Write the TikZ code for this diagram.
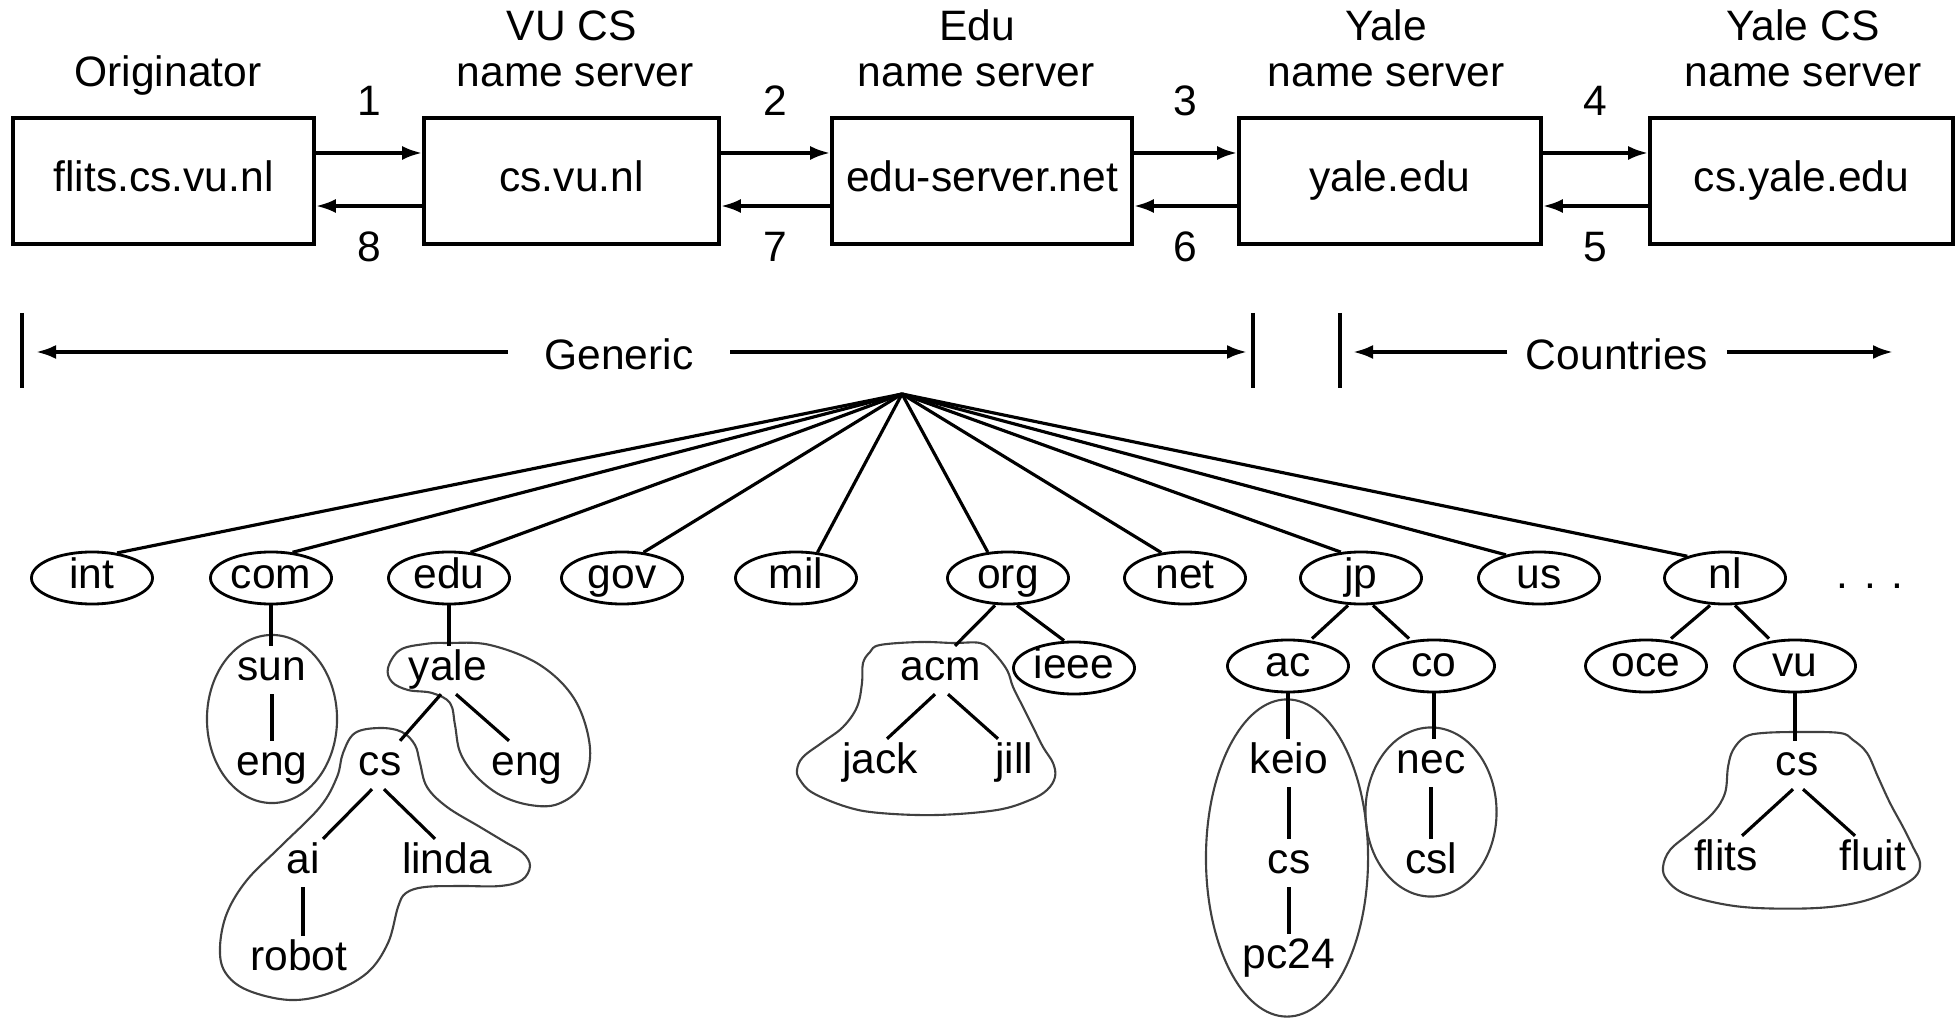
\documentclass[tikz,border=0pt]{standalone}
\usepackage{fontspec}
\setmainfont{Liberation Sans}
\usetikzlibrary{shapes.geometric, arrows.meta}
\begin{document}
\begin{tikzpicture}[x=0.01cm, y=-0.01cm,
  every node/.style={font=\fontsize{12.1pt}{14pt}\selectfont},
  txt/.style={inner xsep=1pt, inner ysep=0.04cm, text height=0.30cm, text depth=0.09cm},
  srv/.style={draw, line width=1pt, minimum height=1.26cm, inner sep=0pt, text height=0.30cm, text depth=0.09cm},
  ell/.style={ellipse, draw, line width=0.8pt, minimum width=1.21cm, minimum height=0.52cm, inner sep=0pt, text height=0.28cm, text depth=0.08cm},
  msg/.style={line width=1pt, -{Latex[length=0.2cm,width=0.14cm]}},
  tl/.style={line width=0.9pt},
  encl/.style={line width=0.6pt, draw=black!75},
  bar/.style={line width=1.1pt},
]
\useasboundingbox (0,0) rectangle (1955,1019);

% ---------- name servers ----------
\node[srv, minimum width=3.01cm] (orig) at (163.5,181) {flits.cs.vu.nl};
\node[srv, minimum width=2.95cm] (vucs) at (571.5,181) {cs.vu.nl};
\node[srv, minimum width=3.00cm] (edus) at (982,181) {edu-server.net};
\node[srv, minimum width=3.02cm] (yaled) at (1390,181) {yale.edu};
\node[srv, minimum width=3.03cm] (ycs) at (1801.5,181) {cs.yale.edu};

\node[txt] (h0) at (168,76) {Originator};
\node[txt] (h1a) at (572,30) {VU CS};
\node[txt] (h1b) at (575,76) {name server};
\node[txt] (h2a) at (977,30) {Edu};
\node[txt] (h2b) at (976,76) {name server};
\node[txt] (h3a) at (1386,30) {Yale};
\node[txt] (h3b) at (1386,76) {name server};
\node[txt] (h4a) at (1803,30) {Yale CS};
\node[txt] (h4b) at (1803,76) {name server};

\draw[msg] ([yshift=0.28cm]orig.east) -- node[txt, midway, above=0.23cm] (n1) {1} ([yshift=0.28cm]vucs.west);
\draw[msg] ([yshift=0.28cm]vucs.east) -- node[txt, midway, above=0.23cm] (n2) {2} ([yshift=0.28cm]edus.west);
\draw[msg] ([yshift=0.28cm]edus.east) -- node[txt, midway, above=0.23cm] (n3) {3} ([yshift=0.28cm]yaled.west);
\draw[msg] ([yshift=0.28cm]yaled.east) -- node[txt, midway, above=0.23cm] (n4) {4} ([yshift=0.28cm]ycs.west);
\draw[msg] ([yshift=-0.25cm]ycs.west) -- node[txt, midway, below=0.2cm] (n5) {5} ([yshift=-0.25cm]yaled.east);
\draw[msg] ([yshift=-0.25cm]yaled.west) -- node[txt, midway, below=0.2cm] (n6) {6} ([yshift=-0.25cm]edus.east);
\draw[msg] ([yshift=-0.25cm]edus.west) -- node[txt, midway, below=0.2cm] (n7) {7} ([yshift=-0.25cm]vucs.east);
\draw[msg] ([yshift=-0.25cm]vucs.west) -- node[txt, midway, below=0.2cm] (n8) {8} ([yshift=-0.25cm]orig.east);

% ---------- Generic / Countries ----------
\coordinate (b1t) at (22,313);   \coordinate (b1b) at (22,388);
\coordinate (b2t) at (1253,313); \coordinate (b2b) at (1253,388);
\coordinate (b3t) at (1340,313); \coordinate (b3b) at (1340,388);
\draw[bar] (b1t) -- (b1b);
\draw[bar] (b2t) -- (b2b);
\draw[bar] (b3t) -- (b3b);
\node[txt, inner xsep=0.36cm] (generic) at (619,359) {Generic};
\node[txt, inner xsep=0.18cm] (countries) at (1617,359) {Countries};
\coordinate (gL) at (36,352);   \coordinate (gR) at (1247,352);
\coordinate (cL) at (1353,352); \coordinate (cR) at (1893,352);
\draw[msg] (generic.west |- gL) -- (gL);
\draw[msg] (generic.east |- gR) -- (gR);
\draw[msg] (countries.west |- cL) -- (cL);
\draw[msg] (countries.east |- cR) -- (cR);

% ---------- tree: enclosures ----------
\draw[encl] (272,719) ellipse [x radius=0.65cm, y radius=0.84cm];
\draw[encl] plot[smooth cycle, tension=0.6] coordinates {(388,668) (400,650) (425,644) (447,643) (490,645) (540,665) (575,700) (590,748) (582,785) (558,804) (530,805) (500,795) (475,775) (460,752) (455,725) (450,703) (432,693) (408,690) (392,682)};
\draw[encl] plot[smooth cycle, tension=0.6] coordinates {(380,728) (355,733) (343,753) (337,777) (320,807) (280,847) (247,880) (227,913) (220,947) (225,972) (247,990) (290,1000) (330,993) (367,973) (388,943) (398,907) (406,893) (425,887) (460,886) (500,886) (522,880) (530,866) (523,853) (505,842) (480,827) (447,807) (427,787) (420,763) (415,745) (402,732)};
\draw[encl] plot[smooth cycle, tension=0.6] coordinates {(870,652) (880,645) (920,642) (953,643) (980,643) (993,652) (1007,670) (1013,687) (1023,707) (1033,727) (1043,747) (1053,763) (1055,777) (1047,790) (1030,800) (997,810) (937,815) (880,813) (847,807) (813,793) (800,780) (797,770) (803,757) (823,742) (843,727) (857,707) (862,683) (863,663)};
\draw[encl] (1287,858) ellipse [x radius=0.81cm, y radius=1.585cm];
\draw[encl] (1431,812) ellipse [x radius=0.655cm, y radius=0.845cm];
\draw[encl] plot[smooth cycle, tension=0.6] coordinates {(1763,733) (1800,732) (1840,733) (1853,740) (1867,753) (1878,777) (1890,803) (1903,827) (1913,847) (1920,863) (1915,877) (1893,890) (1860,902) (1817,908) (1757,908) (1717,903) (1683,893) (1667,880) (1663,867) (1670,850) (1690,833) (1713,813) (1725,793) (1728,767) (1733,750) (1745,737)};

% ---------- tree: nodes ----------
\coordinate (root) at (902,394);
\node[ell] (int) at (92,578) {int};
\node[ell] (com) at (271,578) {com};
\node[ell] (edu) at (449,578) {edu};
\node[ell] (gov) at (622,578) {gov};
\node[ell] (mil) at (796,578) {mil};
\node[ell] (org) at (1008,578) {org};
\node[ell] (net) at (1185,578) {net};
\node[ell] (jp) at (1361,578) {jp};
\node[ell] (us) at (1539,578) {us};
\node[ell] (nl) at (1725,578) {nl};
\node[txt] (dots) at (1870,578) {. . .};

\node[ell] (ieee) at (1074,668) {ieee};
\node[ell] (ac) at (1288,666) {ac};
\node[ell] (co) at (1434,666) {co};
\node[ell] (oce) at (1646,666) {oce};
\node[ell] (vu) at (1795,666) {vu};

\node[txt] (sun) at (272,670) {sun};
\node[txt] (engA) at (272,765) {eng};
\node[txt] (yale) at (448,670) {yale};
\node[txt] (csA) at (380,765) {cs};
\node[txt] (engB) at (527,765) {eng};
\node[txt] (ai) at (303,863) {ai};
\node[txt] (linda) at (447,863) {linda};
\node[txt] (robot) at (299,960) {robot};
\node[txt] (acm) at (941,670) {acm};
\node[txt] (jack) at (880,763) {jack};
\node[txt] (jill) at (1014,763) {jill};
\node[txt] (keio) at (1289,763) {keio};
\node[txt] (csB) at (1289,863) {cs};
\node[txt] (pc) at (1289,958) {pc24};
\node[txt] (nec) at (1431,763) {nec};
\node[txt] (csl) at (1431,863) {csl};
\node[txt] (csC) at (1797,765) {cs};
\node[txt] (flits) at (1726,860) {flits};
\node[txt] (fluit) at (1873,860) {fluit};

% ---------- tree: edges ----------
\draw[tl] (root) -- (int.45);
\draw[tl] (root) -- (com.50);
\draw[tl] (root) -- (edu.50);
\draw[tl] (root) -- (gov.50);
\draw[tl] (root) -- (mil.50);
\draw[tl] (root) -- (org.128);
\draw[tl] (root) -- (net.133);
\draw[tl] (root) -- (jp.128);
\draw[tl] (root) -- (us.145);
\draw[tl] (root) -- (nl.150);

\draw[tl] (com.south) -- (com.south |- sun.north);
\draw[tl] (sun.south) -- (sun.south |- engA.north);
\draw[tl] (edu.south) -- (edu.south |- yale.north);
\draw[tl] ([xshift=-0.07cm]yale.south) -- ([xshift=0.2cm]csA.north);
\draw[tl] ([xshift=0.08cm]yale.south) -- ([xshift=-0.18cm]engB.north);
\draw[tl] ([xshift=-0.08cm]csA.south) -- ([xshift=0.2cm]ai.north);
\draw[tl] ([xshift=0.04cm]csA.south) -- ([xshift=-0.12cm]linda.north);
\draw[tl] (ai.south) -- (ai.south |- robot.north);

\draw[tl] ([xshift=-0.13cm]org.south) -- ([xshift=0.14cm]acm.north);
\draw[tl] ([xshift=0.09cm]org.south) -- ([xshift=-0.1cm]ieee.north);
\draw[tl] ([xshift=-0.06cm]acm.south) -- ([xshift=0.07cm]jack.north);
\draw[tl] ([xshift=0.07cm]acm.south) -- ([xshift=-0.16cm]jill.north);

\draw[tl] ([xshift=-0.13cm]jp.south) -- ([xshift=0.24cm]ac.north);
\draw[tl] ([xshift=0.12cm]jp.south) -- ([xshift=-0.25cm]co.north);
\draw[tl] (ac.south) -- (ac.south |- keio.north);
\draw[tl] (keio.south) -- (keio.south |- csB.north);
\draw[tl] (csB.south) -- (csB.south |- pc.north);
\draw[tl] (co.south) -- (co.south |- nec.north);
\draw[tl] (nec.south) -- (nec.south |- csl.north);

\draw[tl] ([xshift=-0.15cm]nl.south) -- ([xshift=0.25cm]oce.north);
\draw[tl] ([xshift=0.1cm]nl.south) -- ([xshift=-0.26cm]vu.north);
\draw[tl] (vu.south) -- (vu.south |- csC.north);
\draw[tl] ([xshift=-0.04cm]csC.south) -- ([xshift=0.16cm]flits.north);
\draw[tl] ([xshift=0.06cm]csC.south) -- ([xshift=-0.18cm]fluit.north);
\end{tikzpicture}
\end{document}
